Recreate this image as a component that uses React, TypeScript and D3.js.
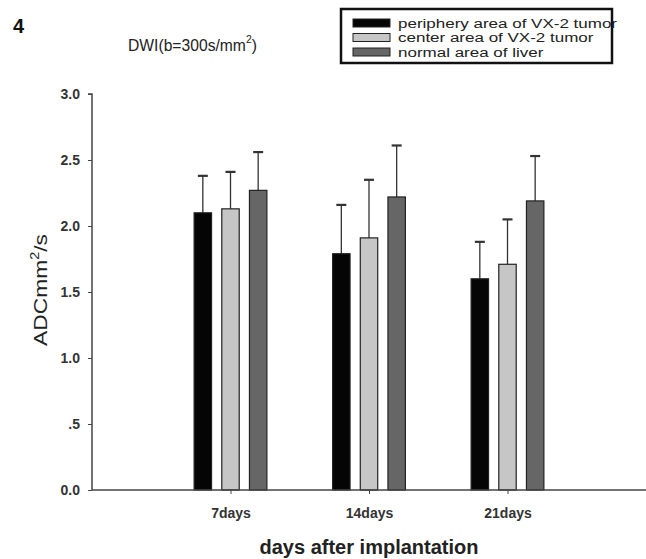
import React, { useRef, useEffect } from 'react';
import * as d3 from 'd3';

const categories = ['7days', '14days', '21days'];
const seriesNames = [
  'periphery area of VX-2 tumor',
  'center area of VX-2 tumor',
  'normal area of liver',
];
const seriesColors = ['#050505', '#c6c6c6', '#666666'];
const periphery = [2.1, 1.79, 1.6];
const peripherySd = [0.28, 0.37, 0.28];
const center = [2.13, 1.91, 1.71];
const centerSd = [0.28, 0.44, 0.34];
const normal = [2.27, 2.22, 2.19];
const normalSd = [0.29, 0.39, 0.34];
const yTicks = [0, 0.5, 1.0, 1.5, 2.0, 2.5, 3.0];
const yTickLabels = ['0.0', '.5', '1.0', '1.5', '2.0', '2.5', '3.0'];

const App = () => {
  const svgRef = useRef<SVGSVGElement>(null);

  useEffect(() => {
    const width = 646;
    const height = 559;
    const margin = { top: 94, right: 0, bottom: 69, left: 92 };
    const font = 'Arial, "Liberation Sans", sans-serif';

    const svg = d3.select(svgRef.current);
    svg.selectAll('*').remove();
    svg.attr('width', width).attr('height', height);

    const chartWidth = width - margin.left - margin.right;
    const chartHeight = height - margin.top - margin.bottom;

    const g = svg.append('g').attr('transform', `translate(${margin.left},${margin.top})`);

    const values = [periphery, center, normal];
    const sds = [peripherySd, centerSd, normalSd];

    // x: categories sit at 1, 2, 3 on a 0..4 axis
    const x = d3.scaleLinear().domain([0, 4]).range([0, chartWidth]);
    const inner = d3
      .scaleBand()
      .domain(seriesNames)
      .range([-41.5, 41.5])
      .paddingInner(0.37)
      .paddingOuter(0.185);
    const y = d3.scaleLinear().domain([0, 3]).range([chartHeight, 0]);

    // bars + error bars (upper only)
    categories.forEach((cat, ci) => {
      const cx = x(ci + 1);
      seriesNames.forEach((s, si) => {
        const v = values[si][ci];
        const sd = sds[si][ci];
        const bx = cx + (inner(s) as number);
        const bw = inner.bandwidth();
        const ex = bx + bw / 2;
        g.append('line')
          .attr('x1', ex)
          .attr('x2', ex)
          .attr('y1', y(v))
          .attr('y2', y(v + sd))
          .attr('stroke', '#333')
          .attr('stroke-width', 1.3);
        g.append('line')
          .attr('x1', ex - 5)
          .attr('x2', ex + 5)
          .attr('y1', y(v + sd))
          .attr('y2', y(v + sd))
          .attr('stroke', '#333')
          .attr('stroke-width', 2.2);
        g.append('rect')
          .attr('x', bx)
          .attr('y', y(v))
          .attr('width', bw)
          .attr('height', chartHeight - y(v))
          .attr('fill', seriesColors[si])
          .attr('stroke', '#222')
          .attr('stroke-width', 1.2);
      });
    });

    // y axis
    const yAxis = d3
      .axisLeft(y)
      .tickValues(yTicks)
      .tickSize(4)
      .tickPadding(8)
      .tickFormat((d, i) => yTickLabels[i]);
    const ya = g.append('g').call(yAxis);
    ya.select('.domain').attr('stroke', '#444').attr('stroke-width', 1.5).attr('d', `M-4,0H0V${chartHeight}`);
    ya.selectAll('line').attr('stroke', '#444');
    ya.selectAll('text')
      .style('font-family', font)
      .style('font-size', '14px')
      .style('font-weight', 'bold')
      .attr('fill', '#333');

    // x axis
    const xAxis = d3
      .axisBottom(x)
      .tickValues([1, 2, 3])
      .tickSize(4)
      .tickPadding(14)
      .tickFormat((d) => categories[(d as number) - 1]);
    const xa = g.append('g').attr('transform', `translate(0,${chartHeight})`).call(xAxis);
    xa.select('.domain').attr('stroke', '#444').attr('stroke-width', 1.5).attr('d', `M0,0H${chartWidth}`);
    xa.selectAll('line').attr('stroke', '#444');
    xa.selectAll('text')
      .style('font-family', font)
      .style('font-size', '14px')
      .style('font-weight', 'bold')
      .attr('fill', '#333');

    // axis titles
    const yTitle = svg
      .append('text')
      .attr('transform', `translate(47,${margin.top + chartHeight / 2 - 2}) rotate(-90) scale(1.2,1)`)
      .attr('text-anchor', 'middle')
      .style('font-family', font)
      .style('font-size', '19px')
      .attr('fill', '#222');
    yTitle.append('tspan').text('ADCmm');
    yTitle.append('tspan').attr('dy', -8).style('font-size', '12px').text('2');
    yTitle.append('tspan').attr('dy', 8).text('/s');

    svg
      .append('text')
      .attr('x', margin.left + x(2))
      .attr('y', 554)
      .attr('text-anchor', 'middle')
      .style('font-family', font)
      .style('font-size', '20px')
      .style('font-weight', 'bold')
      .attr('fill', '#222')
      .text('days after implantation');

    // panel label + title
    svg
      .append('text')
      .attr('x', 13)
      .attr('y', 33)
      .style('font-family', font)
      .style('font-size', '20px')
      .style('font-weight', 'bold')
      .attr('fill', '#111')
      .text('4');

    const title = svg
      .append('text')
      .attr('transform', 'translate(128,51) scale(0.95,1)')
      .style('font-family', font)
      .style('font-size', '16.5px')
      .attr('fill', '#222');
    title.append('tspan').text('DWI(b=300s/mm');
    title.append('tspan').attr('dy', -8).style('font-size', '11px').text('2');
    title.append('tspan').attr('dy', 8).text(')');

    // legend
    const legend = svg.append('g').attr('transform', 'translate(341,9)');
    legend
      .append('rect')
      .attr('width', 271)
      .attr('height', 54)
      .attr('fill', 'white')
      .attr('stroke', '#111')
      .attr('stroke-width', 2.5);
    seriesNames.forEach((s, i) => {
      const row = legend.append('g').attr('transform', `translate(12,${10 + i * 14.5})`);
      row
        .append('rect')
        .attr('width', 37)
        .attr('height', 8)
        .attr('fill', seriesColors[i])
        .attr('stroke', '#222')
        .attr('stroke-width', 1);
      row
        .append('text')
        .attr('transform', 'translate(45,8.5) scale(1.36,1)')
        .style('font-family', font)
        .style('font-size', '12.5px')
        .attr('fill', '#222')
        .text(s);
    });
  }, []);

  return (
    <div style={{ position: 'absolute', left: 0, top: 0 }}>
      <svg ref={svgRef} style={{ display: 'block' }} />
    </div>
  );
};

export default App;
